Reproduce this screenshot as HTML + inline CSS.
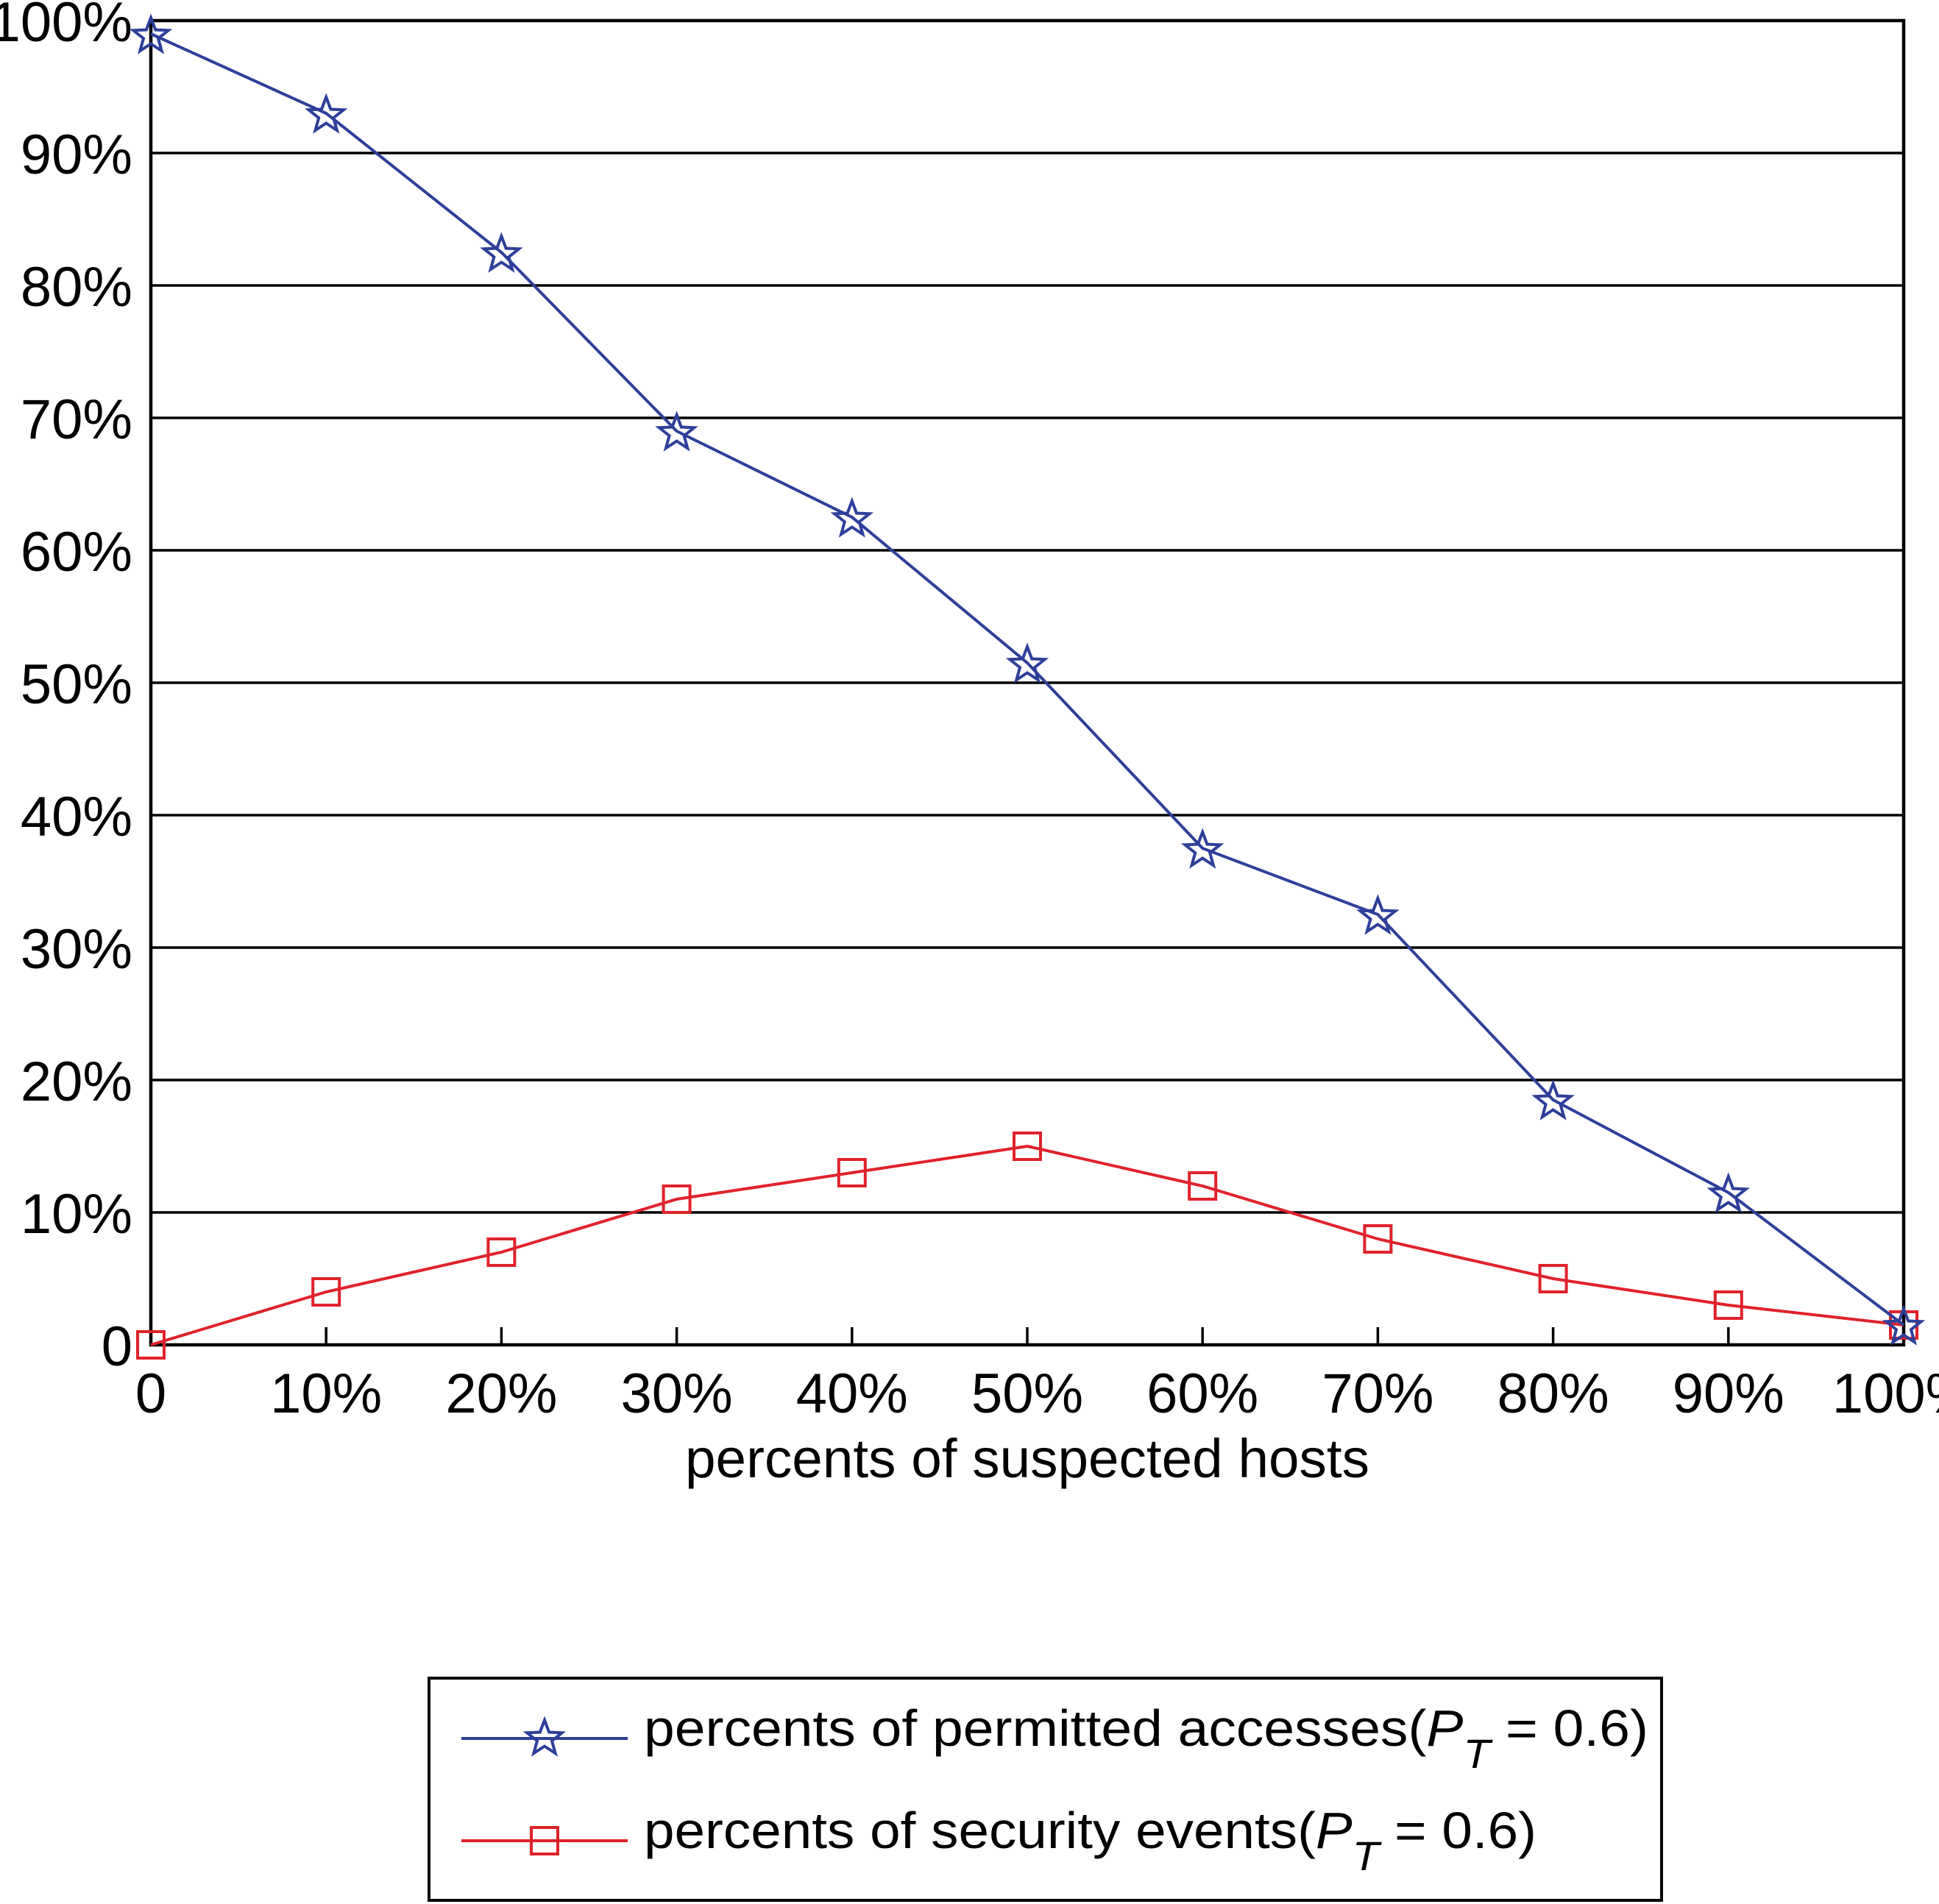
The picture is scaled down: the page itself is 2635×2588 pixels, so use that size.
<!DOCTYPE html>
<html><head><meta charset="utf-8"><style>body{margin:0;background:#fff}svg{display:block}text{font-family:"Liberation Sans",Arial,sans-serif}</style></head>
<body>
<svg id="c" width="2635" height="2588" viewBox="0 0 2635 2588" xmlns="http://www.w3.org/2000/svg">
<g id="grid"></g>
<g id="axes"></g>
<g id="series"></g>
<text x="1396" y="2008" font-size="74" text-anchor="middle" textLength="930" lengthAdjust="spacingAndGlyphs">percents of suspected hosts</text>
<g>
<rect x="583" y="2281" width="1675" height="302" fill="#fff" stroke="#000" stroke-width="4"/>
<g>
<line x1="627" y1="2363" x2="853" y2="2363" stroke="#2e3f9a" stroke-width="4"/>
<polygon id="lstar" fill="none" stroke="#2e3f9a" stroke-width="4"/>
<text x="875" y="2373" font-size="70" textLength="1365" lengthAdjust="spacingAndGlyphs">percents of permitted accesses(<tspan font-style="italic">P</tspan><tspan font-style="italic" font-size="56" dy="30">T</tspan><tspan dy="-30"> = 0.6)</tspan></text>
</g>
<g>
<line x1="627" y1="2502" x2="853" y2="2502" stroke="#e0222b" stroke-width="4"/>
<rect x="722" y="2484" width="36" height="36" fill="none" stroke="#e0222b" stroke-width="4"/>
<text x="875" y="2512" font-size="70" textLength="1213" lengthAdjust="spacingAndGlyphs">percents of security events(<tspan font-style="italic">P</tspan><tspan font-style="italic" font-size="56" dy="30">T</tspan><tspan dy="-30"> = 0.6)</tspan></text>
</g>
</g>
</svg>
<script>
const categories=[0,10,20,30,40,50,60,70,80,90,100];
const xTickLabels=["0","10%","20%","30%","40%","50%","60%","70%","80%","90%","100%"];
const yTicks=[0,10,20,30,40,50,60,70,80,90,100];
const yTickLabels=["0","10%","20%","30%","40%","50%","60%","70%","80%","90%","100%"];
const permitted=[99,93,82.5,69,62.5,51.5,37.5,32.5,18.5,11.5,1.5];
const security=[0,4,7,11,13,15,12,8,5,3,1.5];
const NS="http://www.w3.org/2000/svg";
const L=205,R=2587,T=28,B=1828;
const xs=v=>L+(v-0)/(100)*(R-L);
const ys=v=>B-v/100*(B-T);
function mk(t,a,p){const e=document.createElementNS(NS,t);for(const k in a)e.setAttribute(k,a[k]);p.appendChild(e);return e;}
const grid=document.getElementById('grid'),axes=document.getElementById('axes'),ser=document.getElementById('series');
yTicks.forEach((v,i)=>{
 const l=mk('line',{x1:L,x2:R,y1:ys(v),y2:ys(v),stroke:'#000','stroke-width':3.5},grid);
 
 
 const t=mk('text',{x:180,y:ys(v)+28,'font-size':76,'text-anchor':'end'},axes);
 t.textContent=yTickLabels[i];
 
 
});
categories.forEach((v,i)=>{
 const k=mk('line',{x1:xs(v),x2:xs(v),y1:B,y2:B-24,stroke:'#000','stroke-width':3.5},axes);
 
 
 const t=mk('text',{x:xs(v),y:1920,'font-size':76,'text-anchor':'middle'},axes);
 t.textContent=xTickLabels[i];
 
 
});
const fr=mk('rect',{x:L,y:T,width:R-L,height:B-T,fill:'none',stroke:'#000','stroke-width':4.5},axes);


function starPts(cx,cy,r){let p=[];for(let i=0;i<10;i++){const a=-Math.PI/2+i*Math.PI/5;const rr=i%2?r*0.42:r;p.push((cx+rr*Math.cos(a)).toFixed(1)+','+(cy+rr*Math.sin(a)).toFixed(1));}return p.join(' ');}
document.getElementById('lstar').setAttribute('points',starPts(740,2363,25));
const rl=mk('polyline',{points:security.map((v,i)=>xs(categories[i])+','+ys(v)).join(' '),fill:'none',stroke:'#e0222b','stroke-width':4},ser);


security.forEach((v,i)=>{const m=mk('rect',{x:xs(categories[i])-18,y:ys(v)-18,width:36,height:36,fill:'none',stroke:'#e0222b','stroke-width':4},ser);
 
 });
const bl=mk('polyline',{points:permitted.map((v,i)=>xs(categories[i])+','+ys(v)).join(' '),fill:'none',stroke:'#2e3f9a','stroke-width':4},ser);


permitted.forEach((v,i)=>{const m=mk('polygon',{points:starPts(xs(categories[i]),ys(v)+3,25),fill:'none',stroke:'#2e3f9a','stroke-width':4},ser);
 
 });
</script>
</body></html>
